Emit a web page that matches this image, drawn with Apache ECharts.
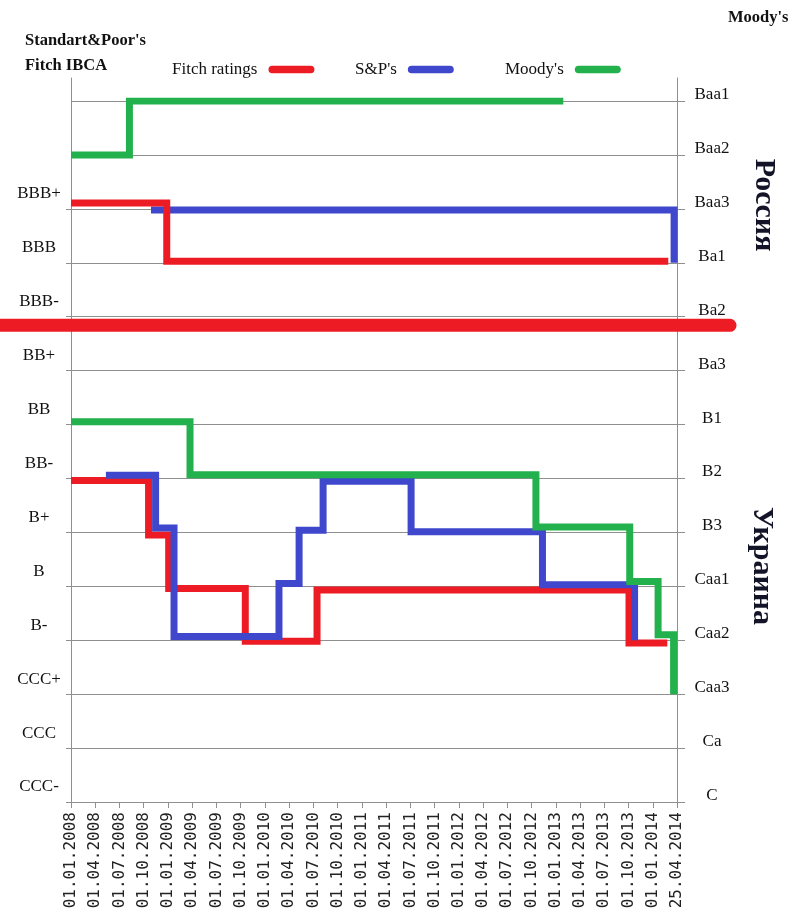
<!DOCTYPE html>
<html>
<head>
<meta charset="utf-8">
<script src="https://cdn.jsdelivr.net/npm/echarts@6/dist/echarts.min.js"></script>
<style>
html,body{margin:0;padding:0;background:#ffffff;}
#chart{width:802px;height:920px;}
</style>
</head>
<body>
<div id="chart"></div>
<script>
// ---- tick labels ----
const dateLabels = ['01.01.2008','01.04.2008','01.07.2008','01.10.2008',
  '01.01.2009','01.04.2009','01.07.2009','01.10.2009',
  '01.01.2010','01.04.2010','01.07.2010','01.10.2010',
  '01.01.2011','01.04.2011','01.07.2011','01.10.2011',
  '01.01.2012','01.04.2012','01.07.2012','01.10.2012',
  '01.01.2013','01.04.2013','01.07.2013','01.10.2013',
  '01.01.2014','25.04.2014'];
const moodysLabels = ['Baa1','Baa2','Baa3','Ba1','Ba2','Ba3','B1','B2','B3','Caa1','Caa2','Caa3','Ca','C'];
const spFitchLabels = ['BBB+','BBB','BBB-','BB+','BB','BB-','B+','B','B-','CCC+','CCC','CCC-'];
const spFitchStart = 2; // BBB+ sits on the Baa3 level

// ---- series: [position on date axis (category index), rating level (0 = Baa1)] ----
const russiaFitch = [[0,1.89],[3.95,1.89],[3.95,2.97],[24.64,2.97]];
const russiaSP = [[3.3,2.02],[24.88,2.02],[24.88,3.0]];
const russiaMoodys = [[0,1.0],[2.41,1.0],[2.41,0.0],[20.31,0.0]];
const ukraineFitch = [[0,7.04],[3.2,7.04],[3.2,8.05],[4.03,8.05],[4.03,9.04],[7.19,9.04],[7.19,10.02],
  [10.15,10.02],[10.15,9.07],[23.02,9.07],[23.02,10.05],[24.6,10.05]];
const ukraineSP = [[1.44,6.94],[3.49,6.94],[3.49,7.92],[4.25,7.92],[4.25,9.93],[8.58,9.93],[8.58,8.95],
  [9.41,8.95],[9.41,7.96],[10.4,7.96],[10.4,7.05],[14.03,7.05],[14.03,7.99],[19.45,7.99],[19.45,8.97],
  [23.25,8.97],[23.25,10.0]];
const ukraineMoodys = [[0,5.95],[4.91,5.95],[4.91,6.93],[19.18,6.93],[19.18,7.9],[23.05,7.9],[23.05,8.91],
  [24.22,8.91],[24.22,9.9],[24.86,9.9],[24.86,11.0]];
const separatorLevel = 4.16;

const RED = '#ED1C24', BLUE = '#3F48CC', GREEN = '#22B14C';
const GRID_C = '#8f8f8f';
const SERIF = "'Liberation Serif','Times New Roman',serif";
const capsule = 'path://M4,0 L44,0 A4,4 0 0 1 44,8 L4,8 A4,4 0 0 1 4,0 Z';

const chart = echarts.init(document.getElementById('chart'), null, {renderer:'canvas'});

function lineSeries(name, data, color, z){
  return {
    type:'line', name:name, data:data, xAxisIndex:0, yAxisIndex:0,
    showSymbol:false, symbol:'none', color:color, z:z, silent:true,
    lineStyle:{color:color, width:7, join:'miter', cap:'butt'}
  };
}
function legendAt(name, left){
  return {
    data:[name], left:left, top:61, align:'right', icon:capsule,
    itemWidth:46, itemHeight:8, selectedMode:false, padding:0,
    itemStyle:{borderWidth:0},
    textStyle:{fontFamily:SERIF, fontSize:17, color:'#111', padding:[0,6,0,0]}
  };
}

const levelsLeft = spFitchLabels.map((_, i) => i + spFitchStart);

chart.setOption({
  animation:false,
  backgroundColor:'#ffffff',
  grid:[
    {left:71, right:125, top:101, bottom:118, containLabel:false},
    {left:71, right:125, top:78, bottom:118, containLabel:false}
  ],
  legend:[
    legendAt('Fitch ratings', 172),
    legendAt("S&P's", 355),
    legendAt("Moody's", 505)
  ],
  xAxis:[
    {
      gridIndex:0, type:'value', min:0, max:dateLabels.length-1, interval:1,
      axisLine:{show:true, onZero:false, lineStyle:{color:GRID_C, width:1}},
      axisTick:{show:true, length:6, lineStyle:{color:GRID_C}},
      splitLine:{show:false},
      axisLabel:{rotate:90, margin:10, fontFamily:"'DejaVu Sans Mono',monospace", fontSize:16, color:'#222',
        formatter:v => dateLabels[Math.round(v)] || ''}
    },
    {gridIndex:1, type:'value', min:0, max:1, show:false}
  ],
  yAxis:[
    {
      gridIndex:0, type:'value', position:'right', inverse:true, min:0, max:moodysLabels.length-1, interval:1,
      axisLine:{show:false, onZero:false},
      axisTick:{show:true, length:8, lineStyle:{color:GRID_C}},
      splitLine:{show:true, lineStyle:{color:GRID_C, width:1}},
      axisLabel:{margin:35, align:'center', verticalAlign:'bottom', lineHeight:13,
        fontFamily:SERIF, fontSize:17, color:'#111',
        formatter:v => moodysLabels[Math.round(v)] || ''}
    },
    {
      gridIndex:0, type:'value', position:'left', inverse:true, min:0, max:moodysLabels.length-1, interval:1,
      axisLine:{show:false, onZero:false},
      axisTick:{show:true, length:5, customValues:levelsLeft, lineStyle:{color:GRID_C}},
      splitLine:{show:false},
      axisLabel:{margin:32, align:'center', verticalAlign:'bottom', lineHeight:30, customValues:levelsLeft,
        fontFamily:SERIF, fontSize:17, color:'#111',
        formatter:v => spFitchLabels[Math.round(v) - spFitchStart] || ''}
    },
    {gridIndex:1, type:'value', position:'left', min:0, max:1,
      axisLine:{show:true, onZero:false, lineStyle:{color:GRID_C, width:1}},
      axisTick:{show:false}, axisLabel:{show:false}, splitLine:{show:false}},
    {gridIndex:1, type:'value', position:'right', min:0, max:1,
      axisLine:{show:true, onZero:false, lineStyle:{color:GRID_C, width:1}},
      axisTick:{show:false}, axisLabel:{show:false}, splitLine:{show:false}}
  ],
  series:[
    lineSeries('Fitch ratings', russiaFitch, RED, 3),
    lineSeries("S&P's", russiaSP, BLUE, 2),
    lineSeries("Moody's", russiaMoodys, GREEN, 4),
    lineSeries('Fitch ratings', ukraineFitch, RED, 2),
    lineSeries("S&P's", ukraineSP, BLUE, 3),
    lineSeries("Moody's", ukraineMoodys, GREEN, 4)
  ]
});

const sepY = chart.convertToPixel({yAxisIndex:0}, separatorLevel);

chart.setOption({
  graphic:[
    {type:'line', z:100, shape:{x1:-10, y1:sepY, x2:730, y2:sepY},
      style:{stroke:RED, lineWidth:13, lineCap:'round'}},
    {type:'text', left:25, top:32, z:100,
      style:{text:"Standart&Poor's", font:"bold 16.5px " + SERIF, fill:'#111'}},
    {type:'text', left:25, top:57, z:100,
      style:{text:'Fitch IBCA', font:"bold 16.5px " + SERIF, fill:'#111'}},
    {type:'text', left:728, top:9, z:100,
      style:{text:"Moody's", font:"bold 16.5px " + SERIF, fill:'#111'}},
    {type:'text', x:764, y:205, rotation:-Math.PI/2, z:100,
      style:{text:'Россия', font:"bold 30px " + SERIF, fill:'#141428',
        align:'center', verticalAlign:'middle', textAlign:'center', textVerticalAlign:'middle'}},
    {type:'text', x:762, y:566, rotation:-Math.PI/2, z:100,
      style:{text:'Украина', font:"bold 30px " + SERIF, fill:'#141428',
        align:'center', verticalAlign:'middle', textAlign:'center', textVerticalAlign:'middle'}}
  ]
});
</script>
</body>
</html>
